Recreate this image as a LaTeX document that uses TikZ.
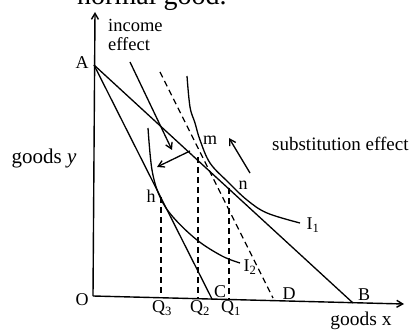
\documentclass[tikz,border=0pt]{standalone}
\usepackage{fontspec}
\setmainfont{Liberation Serif}
\usetikzlibrary{arrows.meta}
\begin{document}
\begin{tikzpicture}[x=1pt,y=-1pt,
  ln/.style={line width=1.3pt},
  axis/.style={line width=1.4pt,-{Straight Barb[length=6pt,width=7pt]}},
  guide/.style={line width=1.3pt,dash pattern=on 6pt off 4pt},
  arr/.style={line width=1.3pt,-{Straight Barb[length=6pt,width=7pt]}},
  lbl/.style={font=\fontsize{18}{21}\selectfont,inner sep=0pt},
  word/.style={font=\fontsize{19}{21}\selectfont,inner sep=0pt}]
\useasboundingbox (0,0) rectangle (409,331);
% partial heading cut by the page
\node[anchor=base west,font=\fontsize{28}{30}\selectfont,inner sep=0pt] (head) at (77,5) {normal good.};
% key points
\coordinate (O) at (93,296);
\coordinate (ytop) at (95,12);
\coordinate (xend) at (404,304);
\coordinate (A) at (94,65);
\coordinate (B) at (353,303);
\coordinate (C) at (212,299);
\coordinate (Dt) at (160,72);
\coordinate (D) at (273,298);
\coordinate (m) at (198,157);
\coordinate (n) at (229,188);
\coordinate (h) at (161,197);
\coordinate (Q1) at (229,299.5);
\coordinate (Q2) at (198,298.7);
\coordinate (Q3) at (161,297.8);
% axes
\draw[axis] (O) -- (ytop);
\draw[axis] (O) -- (xend);
% budget lines
\draw[ln] (A) -- (B);
\draw[ln] (A) -- (C);
\draw[guide] (Dt) -- (D);
% indifference curves
\draw[ln] plot[smooth,tension=0.6] coordinates {(187,76) (190,107) (195,123) (200,140) (210,163) (228,182) (247,200) (267,213) (300,223)};
\draw[ln] plot[smooth,tension=0.6] coordinates {(148,128) (152,170) (160,197) (173,217) (197,240) (222,256) (240,263)};
% dashed verticals
\draw[guide] (h) -- (Q3);
\draw[guide] (m) -- (Q2);
\draw[guide] (n) -- (Q1);
% arrows
\coordinate (ie1) at (130,62);
\coordinate (ie2) at (172,150);
\coordinate (ar1) at (190,151);
\coordinate (ar2) at (157,167);
\coordinate (se1) at (250,173);
\coordinate (se2) at (229,138);
\draw[arr] (ie1) -- (ie2);
\draw[arr] (ar1) -- (ar2);
\draw[arr] (se1) -- (se2);
% labels
\node[lbl] (lA) at (82,63) {A};
\node[lbl] (lO) at (82,300) {O};
\node[lbl,anchor=south] (lB) at (364,301) {B};
\node[lbl,anchor=south] (lC) at (220,298) {C};
\node[lbl,anchor=south] (lD) at (289,300) {D};
\node[lbl] (lm) at (210,140) {m};
\node[lbl] (ln) at (243,185) {n};
\node[lbl] (lh) at (151,196) {h};
\node[lbl] (lI1) at (313,225) {I\textsubscript{1}};
\node[lbl] (lI2) at (250,267) {I\textsubscript{2}};
\node[lbl] (lQ3) at (162,308) {Q\textsubscript{3}};
\node[lbl] (lQ2) at (200,308) {Q\textsubscript{2}};
\node[lbl] (lQ1) at (231,308) {Q\textsubscript{1}};
\node[word,font=\fontsize{21}{23}\selectfont] (lgy) at (44,158) {goods \textit{y}};
\node[word,font=\fontsize{19.5}{22}\selectfont] (lgx) at (361,321) {goods x};
\node[word,anchor=west] (lse) at (272,144) {substitution effect};
\node[word,anchor=north west,align=left,font=\fontsize{18.5}{19}\selectfont] (lie) at (108,19) {income\\effect};
\end{tikzpicture}
\end{document}
